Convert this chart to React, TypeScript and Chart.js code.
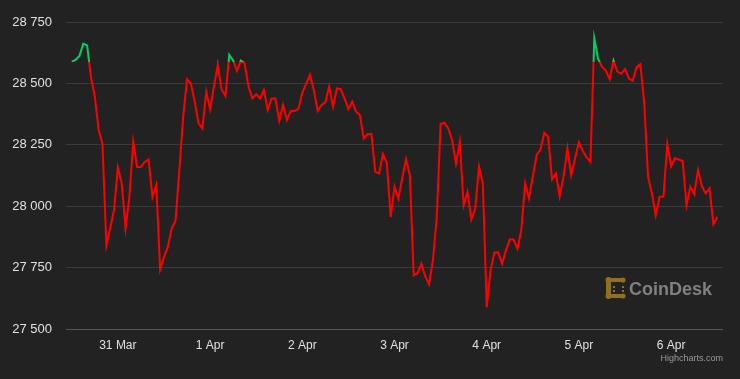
import React, { useEffect, useRef } from "react";
import { Chart, registerables } from "chart.js";

Chart.register(...registerables);

// Hourly prices from 30 Mar 12:00 to 6 Apr 12:00
const prices: number[] = [
  28589, 28596, 28612, 28662, 28655, 28525, 28446, 28310, 28253, 27841,
  27910, 27984, 28158, 28094, 27910, 28038, 28262, 28160, 28160, 28180,
  28190, 28038, 28086, 27742, 27793, 27834, 27909, 27940, 28147, 28364,
  28517, 28500, 28426, 28337, 28317, 28466, 28395, 28487, 28575, 28476,
  28449, 28616, 28593, 28552, 28593, 28582, 28487, 28439, 28456, 28439,
  28473, 28392, 28439, 28439, 28348, 28412, 28351, 28388, 28388, 28396,
  28462, 28498, 28535, 28473, 28388, 28412, 28423, 28487, 28405, 28480,
  28477, 28439, 28396, 28426, 28385, 28371, 28276, 28294, 28294, 28140,
  28133, 28212, 28177, 27956, 28079, 28031, 28113, 28191, 28126, 27718,
  27728, 27766, 27714, 27682, 27780, 27956, 28335, 28340, 28317, 28269,
  28174, 28262, 28004, 28058, 27946, 27990, 28160, 28092, 27589, 27739,
  27811, 27811, 27766, 27820, 27864, 27864, 27827, 27902, 28092, 28031,
  28120, 28208, 28231, 28299, 28283, 28109, 28133, 28041, 28120, 28235,
  28126, 28195, 28260, 28226, 28199, 28181, 28684, 28600, 28568, 28552,
  28517, 28593, 28548, 28539, 28558, 28521, 28511, 28566, 28578, 28419,
  28120, 28052, 27963, 28038, 28038, 28253, 28163, 28195, 28190, 28184,
  28004, 28079, 28049, 28147, 28082, 28052, 28072, 27927, 27956,
];

const dayLabels: string[] = ["31 Mar", "1 Apr", "2 Apr", "3 Apr", "4 Apr", "5 Apr", "6 Apr"];
const dayTickHours: number[] = [12, 36, 60, 84, 108, 132, 156];
const yTicks: number[] = [27500, 27750, 28000, 28250, 28500, 28750];
const threshold = prices[0];

const RED = "#ff0000";
const GREEN = "#00d064";
const FONT = "'Liberation Sans', Arial, Helvetica, sans-serif";

const decorPlugin = {
  id: "decor",
  beforeDraw(chart: any) {
    const c = chart.ctx;
    c.save();
    c.fillStyle = "#222222";
    c.fillRect(0, 0, chart.width, chart.height);
    c.restore();
  },
  afterDraw(chart: any) {
    const c = chart.ctx;
    c.save();
    // CoinDesk watermark icon
    c.fillStyle = "#8f6f22";
    const ix = 606, iy = 277;
    c.fillRect(ix, iy + 1, 5, 20);
    c.fillRect(ix, iy + 1, 18, 4);
    c.fillRect(ix, iy + 17, 18, 4);
    const dot = (x: number, y: number, r: number) => {
      c.beginPath();
      c.arc(x, y, r, 0, Math.PI * 2);
      c.fill();
    };
    dot(ix + 2.5, iy + 3, 3);
    dot(ix + 2.5, iy + 19, 3);
    dot(ix + 17, iy + 3, 2.6);
    dot(ix + 17, iy + 19, 2.6);
    c.fillRect(ix + 7, iy + 9, 2, 2);
    c.fillRect(ix + 7, iy + 13, 2, 2);
    c.fillRect(ix + 16, iy + 9, 2, 2);
    c.fillRect(ix + 16, iy + 13, 2, 2);
    // CoinDesk text
    c.fillStyle = "#808080";
    c.font = `bold 18px ${FONT}`;
    c.textAlign = "left";
    c.textBaseline = "alphabetic";
    c.fillText("CoinDesk", 629, 295);
    // credits
    c.fillStyle = "#999999";
    c.font = `9px ${FONT}`;
    c.textAlign = "right";
    c.fillText("Highcharts.com", 723, 361);
    c.restore();
  },
};

export default function App() {
  const ref = useRef<HTMLCanvasElement | null>(null);

  useEffect(() => {
    document.body.style.margin = "0";
    const canvas = ref.current;
    if (!canvas) return;
    const chart = new Chart(canvas, {
      type: "line",
      data: {
        datasets: [
          {
            data: prices.map((v, i) => ({ x: i, y: v })),
            borderWidth: 2,
            pointRadius: 0,
            tension: 0,
            borderColor: (ctx: any) => {
              const ch = ctx.chart;
              const area = ch.chartArea;
              if (!area) return RED;
              const yPix = ch.scales.y.getPixelForValue(threshold);
              const stop = Math.min(1, Math.max(0, (yPix - area.top) / (area.bottom - area.top)));
              const g = ch.ctx.createLinearGradient(0, area.top, 0, area.bottom);
              g.addColorStop(0, GREEN);
              g.addColorStop(stop, GREEN);
              g.addColorStop(stop, RED);
              g.addColorStop(1, RED);
              return g;
            },
          },
        ],
      },
      options: {
        animation: false,
        responsive: false,
        maintainAspectRatio: false,
        layout: { padding: { top: 22, right: 17, left: 0, bottom: 0 } },
        plugins: {
          legend: { display: false },
          tooltip: { enabled: false },
        },
        scales: {
          x: {
            type: "linear",
            min: -1.5,
            max: 169.5,
            grid: { display: false },
            border: { display: false },
            afterBuildTicks: (scale: any) => {
              scale.ticks = dayTickHours.map((v) => ({ value: v }));
            },
            afterFit: (scale: any) => {
              scale.height = 50;
            },
            ticks: {
              color: "#e0e0e0",
              font: { family: FONT, size: 12 },
              padding: 1,
              maxRotation: 0,
              autoSkip: false,
              callback: (v: any) => {
                const i = dayTickHours.indexOf(Number(v));
                return i >= 0 ? dayLabels[i] : "";
              },
            },
          },
          y: {
            min: 27500,
            max: 28750,
            afterBuildTicks: (scale: any) => {
              scale.ticks = yTicks.map((v) => ({ value: v }));
            },
            afterFit: (scale: any) => {
              scale.width = 66;
            },
            border: { display: false },
            grid: {
              drawTicks: false,
              lineWidth: 1,
              color: (ctx: any) => (ctx.tick && ctx.tick.value === 27500 ? "#555555" : "#3a3a3a"),
            },
            ticks: {
              color: "#e0e0e0",
              font: { family: FONT, size: 13 },
              padding: 14,
              callback: (v: any) => {
                const s = String(Math.round(Number(v)));
                return s.slice(0, s.length - 3) + " " + s.slice(s.length - 3);
              },
            },
          },
        },
      },
      plugins: [decorPlugin],
    } as any);
    return () => chart.destroy();
  }, []);

  return (
    <div style={{ width: 740, height: 379 }}>
      <canvas ref={ref} width={740} height={379} style={{ display: "block", width: 740, height: 379 }} />
    </div>
  );
}
